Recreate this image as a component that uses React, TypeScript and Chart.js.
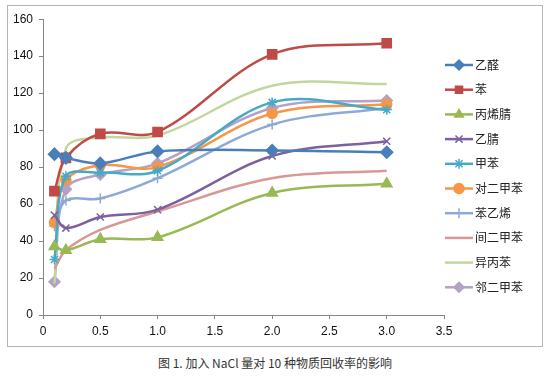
import React, { useEffect, useRef } from "react";
import { Chart, registerables } from "chart.js";
import { drawPoint } from "chart.js/helpers";

Chart.register(...registerables);

const xValues = [0.1, 0.2, 0.5, 1, 2, 3];
const seriesNames = ["乙醛", "苯", "丙烯腈", "乙腈", "甲苯", "对二甲苯", "苯乙烯", "间二甲苯", "异丙苯", "邻二甲苯"];
const s1 = [87, 85, 82, 88.5, 89, 88];
const s2 = [67, 85, 98, 99, 141, 147];
const s3 = [37, 35, 41, 42, 66, 71];
const s4 = [54, 47, 53, 57, 86, 94];
const s5 = [30, 75, 77, 78, 115, 111];
const s6 = [50, 73, 81, 80, 109, 114];
const s7 = [48, 62, 63, 74, 103, 112];
const s8 = [25, 35, 46, 56, 74, 78];
const s9 = [17, 90, 96, 97, 124, 125];
const s10 = [18, 68, 76, 82, 112, 116];
const seriesValues = [s1, s2, s3, s4, s5, s6, s7, s8, s9, s10];
const colors = ["#4A7EBB", "#BE4B48", "#98B954", "#7D60A0", "#46AAC5", "#F79646", "#8EA9D6", "#D99795", "#C3D69B", "#B3A2C7"];
const markers = ["rectRot", "rect", "triangle", "crossRot", "star", "circle", "cross", false, false, "rectRot"];
const radii = [6, 6.5, 6, 5, 5, 5, 5, 0, 0, 5.5];
const xTicks = [0, 0.5, 1, 1.5, 2, 2.5, 3, 3.5];
const yTicks = [0, 20, 40, 60, 80, 100, 120, 140, 160];
const caption = "图 1. 加入 NaCl 量对 10 种物质回收率的影响";

const legendPlugin = {
  id: "customLegend",
  afterDraw(chart: any) {
    const ctx = chart.ctx;
    ctx.save();
    chart.data.datasets.forEach((ds: any, i: number) => {
      const y = 59 + i * 24.7;
      ctx.strokeStyle = ds.borderColor;
      ctx.lineWidth = 2.5;
      ctx.beginPath();
      ctx.moveTo(437, y);
      ctx.lineTo(465, y);
      ctx.stroke();
      if (ds.pointStyle) {
        ctx.fillStyle = ds.borderColor;
        ctx.strokeStyle = ds.borderColor;
        ctx.lineWidth = 1.5;
        drawPoint(ctx, { pointStyle: ds.pointStyle, rotation: 0, radius: Math.min(ds.pointRadius, 5), borderWidth: 1.5 }, 451, y);
      }
      ctx.fillStyle = "#222";
      ctx.font = "12px 'Noto Sans CJK SC'";
      ctx.textBaseline = "middle";
      ctx.textAlign = "left";
      ctx.fillText(ds.label, 467, y);
    });
    ctx.restore();
  },
};

export default function App() {
  const ref = useRef<HTMLCanvasElement>(null);
  useEffect(() => {
    document.body.style.margin = "0";
    const datasets = seriesNames.map((name, i) => ({
      label: name,
      data: xValues.map((x, j) => ({ x, y: seriesValues[i][j] })),
      borderColor: colors[i],
      backgroundColor: colors[i],
      pointBackgroundColor: colors[i],
      pointBorderColor: colors[i],
      pointStyle: markers[i] as any,
      pointRadius: radii[i],
      pointBorderWidth: 1.5,
      borderWidth: 2.5,
      tension: 0.35,
      fill: false,
    }));
    const chart = new Chart(ref.current!, {
      type: "line",
      data: { datasets },
      plugins: [legendPlugin],
      options: {
        animation: false,
        responsive: false,
        maintainAspectRatio: false,
        layout: { padding: { left: 0, right: 98, top: 11, bottom: 0 } },
        plugins: { legend: { display: false }, tooltip: { enabled: false } },
        scales: {
          x: {
            type: "linear",
            min: 0,
            max: 3.5,
            afterBuildTicks: (s: any) => { s.ticks = xTicks.map((v) => ({ value: v })); },
            afterFit: (s: any) => { s.height = 31; },
            grid: { drawOnChartArea: false, drawTicks: true, tickLength: 4, color: "#868686" },
            border: { color: "#868686", width: 1 },
            ticks: { color: "#111", font: { family: "'Liberation Sans'", size: 12 }, padding: 5, maxRotation: 0 },
          },
          y: {
            type: "linear",
            min: 0,
            max: 160,
            afterBuildTicks: (s: any) => { s.ticks = yTicks.map((v) => ({ value: v })); },
            afterFit: (s: any) => { s.width = 35; },
            grid: { drawOnChartArea: false, drawTicks: true, tickLength: 4, color: "#868686" },
            border: { color: "#868686", width: 1 },
            ticks: { color: "#111", font: { family: "'Liberation Sans'", size: 12 }, padding: 6 },
          },
        },
      },
    });
    return () => chart.destroy();
  }, []);
  return (
    <div style={{ position: "relative", width: 547, height: 379, background: "#fff" }}>
      <div style={{ position: "absolute", left: 7, top: 5, width: 534, height: 340, border: "1px solid #b5b5b5", boxSizing: "content-box" }}>
        <canvas ref={ref} width={534} height={340} style={{ display: "block" }} />
      </div>
      <div style={{ position: "absolute", left: 0, width: 550, top: 354, textAlign: "center", fontFamily: "'Noto Sans CJK SC'", fontSize: 12, color: "#333" }}>
        {caption}
      </div>
    </div>
  );
}
